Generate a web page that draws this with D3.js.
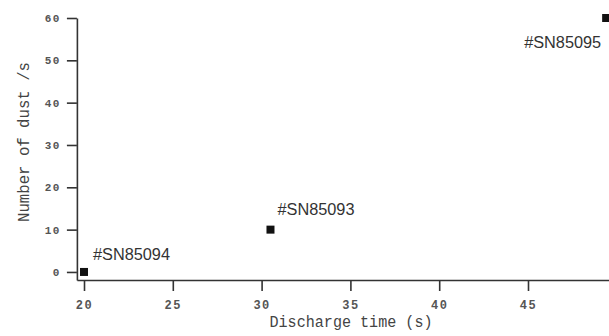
<!DOCTYPE html>
<html><head><meta charset="utf-8">
<script src="https://cdn.jsdelivr.net/npm/d3@7"></script>
<style>
html,body{margin:0;padding:0;background:#fff;}
svg{display:block;}
</style></head>
<body>
<svg id="chart" width="609" height="336"></svg>
<script>
// ---- data ----
const samples = ["#SN85094", "#SN85093", "#SN85095"];
const dischargeTime = [20, 30.5, 49.4];
const dustCount = [0, 10, 60];
const xTicks = [20, 25, 30, 35, 40, 45];
const yTicks = [0, 10, 20, 30, 40, 50, 60];
const xTitle = "Discharge time (s)";
const yTitle = "Number of dust /s";

const svg = d3.select("#chart");
const axisColor = "#333";

const x = d3.scaleLinear().domain([19.6, 50]).range([76.9, 616.8]);
const y = d3.scaleLinear().domain([-1.9, 60]).range([280, 18]);

// y axis
const gy = svg.append("g").attr("transform", `translate(${x(19.6)},0)`)
  .call(d3.axisLeft(y).tickValues(yTicks).tickSize(10).tickSizeOuter(0).tickPadding(6).tickFormat(d3.format("d")));
gy.select(".domain").attr("stroke", axisColor).attr("stroke-width", 1.6);
gy.selectAll(".tick line").attr("stroke", axisColor).attr("stroke-width", 1.6);
gy.selectAll(".tick text").attr("fill", "#555").style("font-family", "'Liberation Mono', monospace")
  .style("font-size", "11px").style("font-weight", "bold").style("letter-spacing", "1.5px");

// x axis
const gx = svg.append("g").attr("transform", `translate(0,${y(-1.9)})`)
  .call(d3.axisBottom(x).tickValues(xTicks).tickSize(11).tickSizeOuter(0).tickFormat(d3.format("d")));
gx.select(".domain").attr("stroke", axisColor).attr("stroke-width", 1.6);
gx.selectAll(".tick line").attr("stroke", axisColor).attr("stroke-width", 1.6);
gx.selectAll(".tick text").attr("fill", "#555").attr("y", 20).attr("dy", "0.71em")
  .style("font-family", "'Liberation Mono', monospace")
  .style("font-size", "12px").style("font-weight", "bold").style("letter-spacing", "1.5px");
svg.selectAll(".domain").attr("fill", "none");

// points
const sq = 8;
svg.append("g").selectAll("rect").data(dischargeTime).join("rect")
  .attr("x", (d) => x(d) - sq / 2)
  .attr("y", (d, i) => y(dustCount[i]) - sq / 2)
  .attr("width", sq).attr("height", sq).attr("fill", "#111");

// labels
const labelDx = [9, 7, -82];
const labelDy = [-12, -15, 30];
svg.append("g").selectAll("text").data(samples).join("text")
  .attr("x", (d, i) => x(dischargeTime[i]) + labelDx[i])
  .attr("y", (d, i) => y(dustCount[i]) + labelDy[i])
  .attr("fill", "#333")
  .style("font-family", "'Liberation Sans', Arial, sans-serif")
  .style("font-size", "16px")
  .attr("textLength", 77).attr("lengthAdjust", "spacingAndGlyphs")
  .text((d) => d);

// axis titles
svg.append("text").attr("x", 351).attr("y", 327).attr("text-anchor", "middle")
  .attr("fill", "#444").style("font-family", "'Liberation Mono', monospace").style("font-size", "16px")
  .attr("textLength", 163).attr("lengthAdjust", "spacingAndGlyphs")
  .text(xTitle);

svg.append("text").attr("transform", "translate(29,142) rotate(-90)").attr("text-anchor", "middle")
  .attr("fill", "#444").style("font-family", "'Liberation Mono', monospace").style("font-size", "17px")
  .attr("textLength", 160).attr("lengthAdjust", "spacingAndGlyphs")
  .text(yTitle);
</script>
</body></html>
